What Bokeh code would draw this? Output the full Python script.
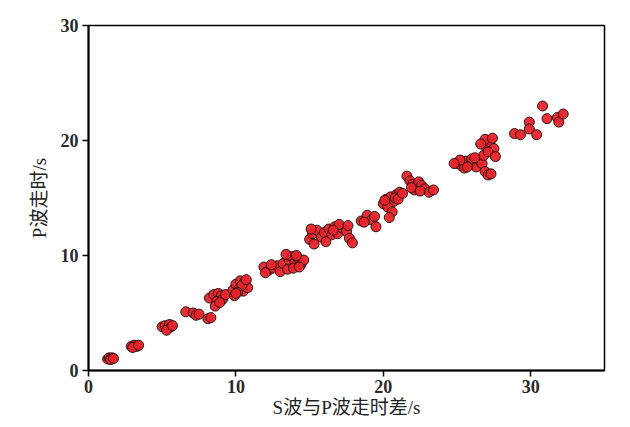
from bokeh.plotting import figure
from bokeh.models import Range1d, FixedTicker
from bokeh.embed import file_html
from bokeh.resources import INLINE

# S-P time difference (s)
sp_diff = [
    1.3, 1.4, 1.5, 1.6, 1.5, 1.7,
    2.9, 3.1, 3.3, 3.0, 3.4,
    5.0, 5.2, 5.4, 5.5, 5.6, 5.3, 5.7,
    6.6, 7.1, 7.3, 7.5, 8.1, 8.3,
    8.2, 8.5, 8.8, 9.0, 8.7, 9.1, 8.6, 9.3, 8.9,
    9.8, 10.0, 10.3, 10.6, 10.2, 10.5, 10.8, 9.9, 10.4, 10.1, 10.7, 10.0,
    11.9, 12.2, 12.5, 12.8, 13.0, 13.2, 12.4, 13.5, 13.6, 13.8, 14.0, 14.2, 14.4, 14.6, 13.9, 14.1, 13.4, 12.0, 14.3,
    15.0, 15.2, 15.5, 15.8, 16.0, 16.3, 16.5, 16.7, 16.9, 17.2, 17.5, 17.7, 17.9, 15.3, 16.1, 17.0, 17.6, 16.6, 15.1,
    18.5, 18.9, 19.2, 19.5, 18.7, 19.4,
    20.0, 20.2, 20.5, 20.7, 20.9, 21.1, 20.3, 20.6, 20.4, 20.8, 21.0, 21.3, 20.1,
    21.6, 21.8, 22.0, 22.2, 22.4, 22.6, 22.8, 23.1, 23.4, 22.1, 21.9, 22.5,
    25.0, 25.3, 25.6, 25.9, 26.1, 25.5, 26.3, 26.5, 26.0, 25.2, 26.7, 26.9, 27.1, 27.3, 26.8, 27.0, 27.2, 27.5, 26.9, 27.4, 27.1, 27.6, 26.6, 24.8, 25.7, 26.2,
    28.9, 29.3, 29.9, 29.9, 30.4,
    30.8, 31.1, 31.8, 31.9, 32.2,
]
# P travel time (s)
p_time = [
    1.0, 1.1, 1.0, 1.1, 0.95, 1.05,
    2.1, 2.2, 2.1, 2.0, 2.2,
    3.8, 3.9, 3.7, 4.0, 3.8, 3.5, 3.9,
    5.1, 5.0, 4.8, 4.9, 4.5, 4.6,
    6.3, 6.6, 6.7, 6.5, 6.0, 6.2, 5.6, 6.6, 5.9,
    7.0, 7.5, 7.8, 7.7, 7.1, 6.9, 7.2, 6.5, 7.4, 6.8, 7.9, 6.7,
    9.0, 8.7, 8.9, 9.1, 8.6, 9.3, 9.2, 8.8, 9.6, 9.9, 9.4, 9.8, 9.2, 9.6, 8.9, 10.0, 10.1, 8.5, 9.0,
    11.4, 11.9, 12.2, 11.6, 12.0, 12.3, 11.8, 12.5, 11.9, 12.4, 12.1, 11.5, 11.1, 11.0, 11.2, 12.7, 12.6, 12.2, 12.3,
    13.0, 13.5, 13.1, 12.5, 12.9, 13.4,
    14.5, 14.9, 15.1, 14.7, 15.3, 15.5, 14.2, 13.8, 13.3, 15.0, 14.9, 15.4, 14.8,
    16.9, 16.5, 16.2, 15.9, 16.4, 16.1, 15.8, 15.5, 15.7, 15.7, 15.9, 15.6,
    18.0, 17.8, 18.2, 17.9, 18.1, 17.6, 17.7, 18.3, 18.4, 18.3, 18.0, 17.3, 17.0, 17.1, 18.7, 19.4, 19.9, 19.3, 20.1, 20.2, 19.0, 18.6, 19.7, 18.0, 17.7, 18.5,
    20.6, 20.5, 21.6, 21.0, 20.5,
    23.0, 21.9, 22.0, 21.6, 22.3,
]
x_ticks = [0, 10, 20, 30]
y_ticks = [0, 10, 20, 30]
x_label = "S波与P波走时差/s"
y_label = "P波走时/s"

FONT = "'Liberation Serif', 'Noto Sans CJK SC', serif"

p = figure(width=622, height=420, output_backend="svg", toolbar_location=None,
           x_range=Range1d(0, 35), y_range=Range1d(0, 30),
           min_border_left=88, min_border_right=18, min_border_top=25, min_border_bottom=50)

p.scatter(sp_diff, p_time, size=10, fill_color="#e8232a", line_color="#2b1414",
          line_width=1, fill_alpha=0.95)

p.xgrid.visible = False
p.ygrid.visible = False
p.outline_line_color = "black"
p.outline_line_width = 1.5

for ax, ticks in ((p.xaxis[0], x_ticks), (p.yaxis[0], y_ticks)):
    ax.ticker = FixedTicker(ticks=ticks)
    ax.minor_tick_line_color = None
    ax.major_tick_out = 6
    ax.major_tick_in = 0
    ax.major_tick_line_width = 1.5
    ax.axis_line_width = 2
    ax.axis_line_color = "black"
    ax.major_tick_line_color = "black"
    ax.major_label_text_font = FONT
    ax.major_label_text_font_size = "18px"
    ax.major_label_text_font_style = "bold"
    ax.major_label_text_color = "#2a2a2a"
    ax.axis_label_text_font = FONT
    ax.axis_label_text_font_size = "19px"
    ax.axis_label_text_font_style = "normal"
    ax.axis_label_text_color = "#222222"

p.xaxis.axis_label = x_label
p.yaxis.axis_label = y_label
p.xaxis.major_label_standoff = 3
p.xaxis.axis_label_standoff = 1
p.yaxis.major_label_standoff = 4
p.yaxis.axis_label_standoff = 8

open("out.html", "w").write(file_html(p, INLINE))
